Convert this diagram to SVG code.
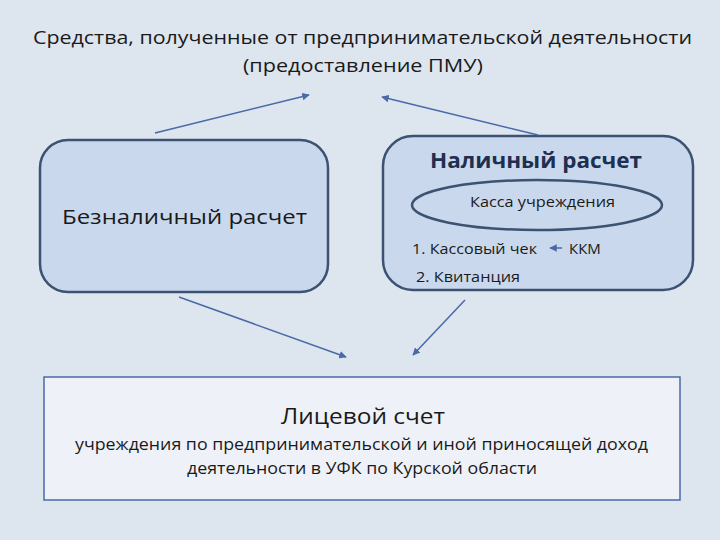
<svg xmlns="http://www.w3.org/2000/svg" width="720" height="540" viewBox="0 0 720 540">
<defs>
<marker id="ah" viewBox="0 0 10 10" refX="9" refY="5" markerWidth="5" markerHeight="5" orient="auto"><path d="M0,0L10,5L0,10z" fill="#4a69a8"/></marker>
<style>
text{font-family:"Open Sans","DejaVu Sans",sans-serif;font-weight:500;fill:#1a1a1a}
.box{fill:#c9d8ec;stroke:#3c5272;stroke-width:2.5}
.ln{stroke:#4a69a8;stroke-width:1.5;fill:none;marker-end:url(#ah)}
</style>
</defs>
<rect width="720" height="540" fill="#dde5ef"/>
<g id="title"><text x="33" y="44" font-size="19" textLength="659" lengthAdjust="spacingAndGlyphs">Средства, полученные от предпринимательской  деятельности</text>
<text x="243" y="72" font-size="19" textLength="240" lengthAdjust="spacingAndGlyphs">(предоставление ПМУ)</text></g>
<g id="left"><rect class="box" x="40" y="140" width="288" height="152" rx="28"/>
<text x="62" y="224" font-size="20" textLength="245" lengthAdjust="spacingAndGlyphs">Безналичный расчет</text></g>
<g id="right"><rect class="box" x="383" y="136" width="310" height="154" rx="30"/>
<text x="430" y="168" font-size="21" style="font-weight:bold;fill:#1f2f50" textLength="212" lengthAdjust="spacingAndGlyphs">Наличный расчет</text>
<ellipse cx="537" cy="205" rx="125" ry="25" fill="#c9d8ec" stroke="#3c5272" stroke-width="2.5"/>
<text x="470" y="207" font-size="14" textLength="145" lengthAdjust="spacingAndGlyphs">Касса учреждения</text>
<text x="412" y="254" font-size="15" textLength="125" lengthAdjust="spacingAndGlyphs">1. Кассовый чек</text>
<text x="569" y="254" font-size="15">ККМ</text>
<text x="416" y="282" font-size="15" textLength="104" lengthAdjust="spacingAndGlyphs">2. Квитанция</text></g>
<g id="bottom"><rect x="44" y="377" width="636" height="123" fill="#eef2f8" stroke="#4a69a8" stroke-width="1.5"/>
<text x="281" y="424" font-size="22" textLength="164" lengthAdjust="spacingAndGlyphs">Лицевой счет</text>
<text x="75" y="450" font-size="16" textLength="573" lengthAdjust="spacingAndGlyphs">учреждения по предпринимательской и иной приносящей доход</text>
<text x="187" y="474" font-size="16" textLength="350" lengthAdjust="spacingAndGlyphs">деятельности в УФК по Курской области</text></g>
<g id="connectors">
<path class="ln" d="M155,133L309,95"/>
<path class="ln" d="M538,135L382,97"/>
<path class="ln" d="M179,297L346,357"/>
<path class="ln" d="M465,300L413,355"/>
<path class="ln" d="M562,248L550,248"/>
</g>
</svg>
